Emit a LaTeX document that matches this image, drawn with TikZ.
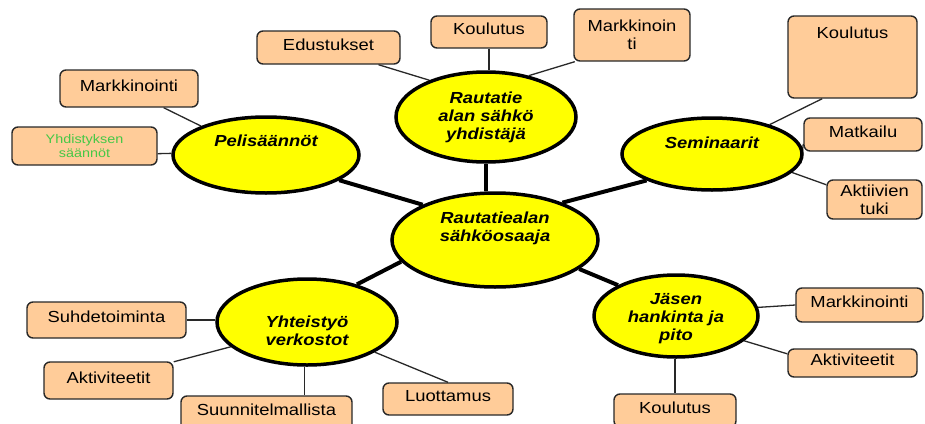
\documentclass[tikz,border=0pt]{standalone}
\usepackage{fontspec}
\setmainfont{Liberation Sans}[FakeStretch=1.15]
\usetikzlibrary{shapes.geometric,backgrounds}
\definecolor{peach}{RGB}{255,204,153}
\definecolor{hubyellow}{RGB}{255,255,0}
\definecolor{boxline}{RGB}{40,40,40}
\definecolor{textgreen}{RGB}{70,200,70}
\begin{document}
\begin{tikzpicture}[x=1pt,y=-1pt,
  box/.style={draw=boxline, fill=peach, rounded corners=6pt, line width=1.4pt, inner sep=0pt, font=\fontsize{16}{18}\selectfont, text=black},
  onebox/.style={box, text height=11.5pt, text depth=6pt},
  twobox/.style={box, align=center},
  hub/.style={ellipse, draw=black, fill=hubyellow, line width=3.5pt, inner sep=0pt},
  hubtxt/.style={font=\fontsize{16}{18}\selectfont\bfseries\itshape, align=center, inner sep=0pt},
  thin/.style={draw=boxline, line width=1.3pt},
  thick/.style={draw=black, line width=4pt}]
\useasboundingbox (0,0) rectangle (925,423);
\clip (0,0) rectangle (925,423);

% hubs
\node[hub, minimum width=206pt, minimum height=94pt, label={[hubtxt,yshift=12pt]center:{Rautatiealan\\sähköosaaja}}] (C) at (495,240) {};
\node[hub, minimum width=180pt, minimum height=90pt, label={[hubtxt]center:{Rautatie\\alan sähkö\\yhdistäjä}}] (T) at (486,117) {};
\node[hub, minimum width=186pt, minimum height=76pt, label={[hubtxt,yshift=14pt]center:{Pelisäännöt}}] (P) at (266,155) {};
\node[hub, minimum width=180pt, minimum height=72pt, label={[hubtxt,yshift=11pt]center:{Seminaarit}}] (S) at (712,154) {};
\node[hub, minimum width=180pt, minimum height=86pt, label={[hubtxt,yshift=-9pt]center:{Yhteistyö\\verkostot}}] (Y) at (307,322) {};
\node[hub, minimum width=164pt, minimum height=82pt, label={[hubtxt,yshift=-3pt]center:{Jäsen\\hankinta ja\\pito}}] (J) at (676,316) {};

% boxes
\node[onebox, minimum width=143pt, minimum height=33pt] (edu) at (328.5,47.5) {Edustukset};
\node[onebox, minimum width=116pt, minimum height=32pt] (kt) at (489,32) {Koulutus};
\node[twobox, minimum width=116pt, minimum height=52pt] (mkt) at (632,35) {Markkinoin\\ti};
\node[box, text height=11.5pt, text depth=48pt, minimum width=129pt, minimum height=82pt] (kr) at (852.5,57) {Koulutus};
\node[onebox, minimum width=118pt, minimum height=33pt] (mat) at (863,134.5) {Matkailu};
\node[twobox, minimum width=95pt, minimum height=39pt] (akt) at (874.5,199.5) {Aktiivien\\tuki};
\node[onebox, minimum width=138pt, minimum height=37pt] (mkl) at (129,88.5) {Markkinointi};
\node[twobox, minimum width=145pt, minimum height=38pt, font=\fontsize{12.5}{14}\selectfont, text=textgreen] (yhd) at (84.5,146) {Yhdistyksen\\säännöt};
\node[onebox, minimum width=159pt, minimum height=36pt] (suh) at (106.5,320) {Suhdetoiminta};
\node[onebox, minimum width=129pt, minimum height=37pt] (akl) at (108.5,380.5) {Aktiviteetit};
\node[onebox, minimum width=171pt, minimum height=34pt] (suu) at (266.5,413) {Suunnitelmallista};
\node[onebox, minimum width=130pt, minimum height=32pt] (luo) at (448,399) {Luottamus};
\node[onebox, minimum width=127pt, minimum height=34pt] (mkr) at (859.5,305) {Markkinointi};
\node[onebox, minimum width=129pt, minimum height=28pt] (akr) at (852.5,363) {Aktiviteetit};
\node[onebox, minimum width=122pt, minimum height=33pt] (kb) at (675,410.5) {Koulutus};

% connectors
\begin{scope}[on background layer]
\draw[thick] (T.south) -- (T.south |- C.north);
\draw[thick] (P.-19) -- (C.154);
\draw[thick] (S.202) -- (C.29);
\draw[thick] (Y.37) -- (C.193);
\draw[thick] (C.-19) -- (J.152);

\draw[thin] (edu.-19) -- (T.147);
\draw[thin] (kt.south) -- (kt.south |- T.north);
\draw[thin] (mkt.205) -- (T.44);
\draw[thin] (mkl.-29) -- (P.156);
\draw[thin] (yhd.-6) -- (P.179);
\draw[thin] (kr.-126) -- (S.27);
\draw[thin] (mat.189) -- (S.-6);
\draw[thin] (akt.163) -- (S.-13);
\draw[thin] (suh.east) -- (suh.east -| Y.west);
\draw[thin] (akl.16) -- (Y.198);
\draw[thin] (Y.-93) -- (Y.-93 |- suu.north);
\draw[thin] (luo.north) -- (Y.-24);
\draw[thin] (mkr.west) -- (J.6);
\draw[thin] (akr.172) -- (J.-20);
\draw[thin] (kb.north) -- (kb.north |- J.south);
\end{scope}
\end{tikzpicture}
\end{document}
